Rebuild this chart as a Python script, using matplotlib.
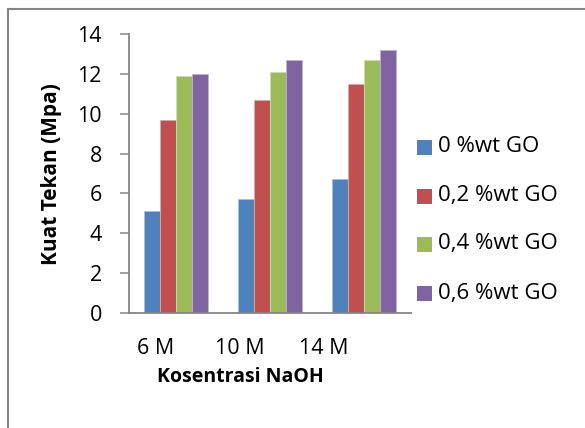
import matplotlib
matplotlib.use("Agg")
import matplotlib.pyplot as plt
from matplotlib.patches import Rectangle
from matplotlib.lines import Line2D
import numpy as np

plt.rcParams['font.family'] = ['Open Sans', 'DejaVu Sans']

categories = ["6 M", "10 M", "14 M"]
series_names = ["0 %wt GO", "0,2 %wt GO", "0,4 %wt GO", "0,6 %wt GO"]
go_0 = [5.1, 5.7, 6.7]
go_02 = [9.7, 10.7, 11.5]
go_04 = [11.9, 12.1, 12.7]
go_06 = [12.0, 12.7, 13.2]
y_ticks = [0, 2, 4, 6, 8, 10, 12, 14]

colors = ["#4F81BD", "#C0504D", "#9BBB59", "#8064A2"]
edge_colors = ["#A7C0DE", "#DFA8A6", "#CDDDAC", "#BFB1D0"]
axis_gray = "#868686"

W, H = 585, 428
fig = plt.figure(figsize=(W / 100, H / 100), dpi=100)
fig.patch.set_facecolor("white")

# plot area in pixels
x0, x1 = 129, 411
y_bot, y_top = 313, 34
ax = fig.add_axes([x0 / W, 1 - y_bot / H, (x1 - x0) / W, (y_bot - y_top) / H])

series = [go_0, go_02, go_04, go_06]
n = len(series)
bar_w = 0.17
x = np.arange(len(categories))
for i, (vals, c, ec) in enumerate(zip(series, colors, edge_colors)):
    offs = (i - (n - 1) / 2) * bar_w
    ax.bar(x + offs, vals, width=bar_w, color=c, edgecolor=ec, linewidth=0.6, zorder=2)

ax.set_xlim(-0.5, len(categories) - 0.5)
ax.set_ylim(0, 14)
ax.set_yticks(y_ticks)
ax.set_yticklabels([str(t) for t in y_ticks], fontsize=15.5)
ax.tick_params(axis='y', direction='out', length=6.5, width=1.1, color=axis_gray, pad=13)
ax.set_xticks([])

for s in ["top", "right"]:
    ax.spines[s].set_visible(False)
for s in ["left", "bottom"]:
    ax.spines[s].set_color(axis_gray)
    ax.spines[s].set_linewidth(1.3)

# category labels under the axis
label_frac = [0.096, 0.394, 0.691]
for f, lab in zip(label_frac, categories):
    fig.text((x0 + f * (x1 - x0)) / W, 1 - 348 / H, lab, ha='center', va='center', fontsize=15.5)

fig.text(240 / W, 1 - 377 / H, "Kosentrasi NaOH", ha='center', va='center',
         fontsize=14, fontweight='bold')
fig.text(52 / W, 1 - 174.5 / H, "Kuat Tekan (Mpa)", ha='center', va='center',
         rotation=90, fontsize=15, fontweight='bold')

# legend
leg_y = [147, 196, 244, 293]
for yy, name, c in zip(leg_y, series_names, colors):
    fig.patches.append(Rectangle((417 / W, 1 - (yy + 7.5) / H), 15 / W, 15 / H,
                                 transform=fig.transFigure, facecolor=c, edgecolor='none'))
    fig.text(438 / W, 1 - yy / H, name, ha='left', va='center', fontsize=16)

# chart border
fig.lines.append(Line2D([8 / W, 8 / W], [0, 1 - 9 / H], transform=fig.transFigure,
                        color=axis_gray, linewidth=1.5))
fig.lines.append(Line2D([8 / W, 1], [1 - 9 / H, 1 - 9 / H], transform=fig.transFigure,
                        color=axis_gray, linewidth=1.5))

fig.savefig("out.png", dpi=100)
